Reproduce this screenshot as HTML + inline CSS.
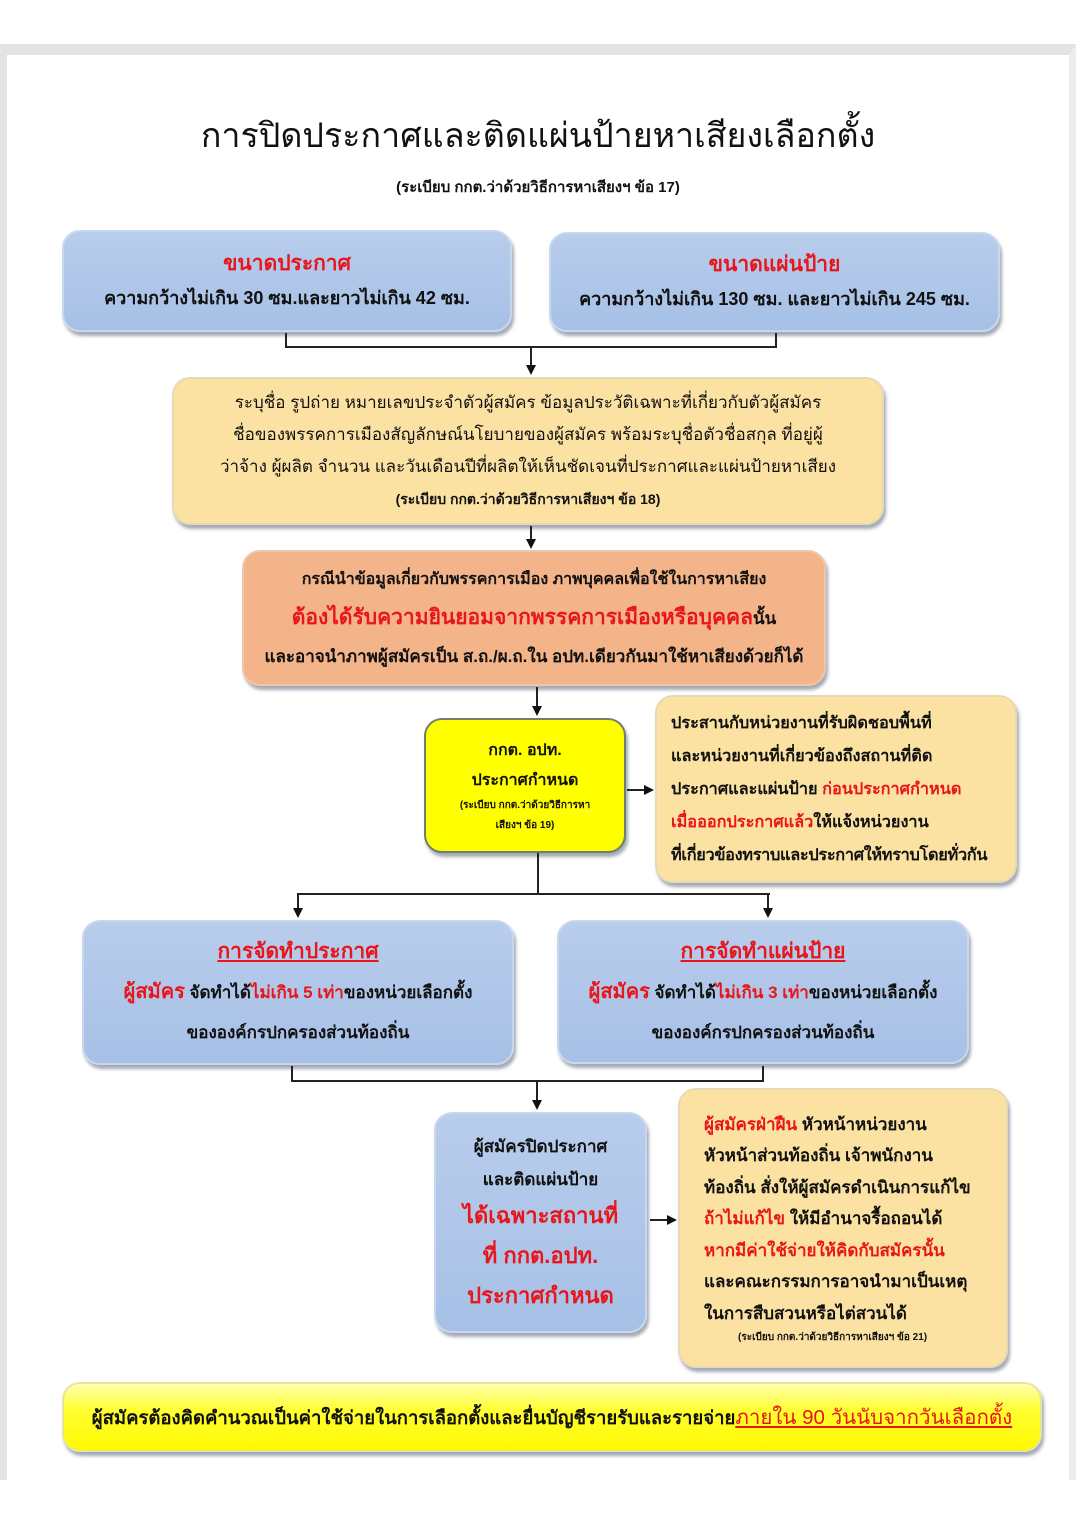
<!DOCTYPE html>
<html><head><meta charset="utf-8">
<style>
*{margin:0;padding:0;box-sizing:border-box}
body{width:1076px;height:1522px;background:#fff;position:relative;overflow:hidden;font-family:"Liberation Sans","DejaVu Sans",sans-serif;color:#111}
.frame{position:absolute;left:0;top:44px;width:1076px;height:1436px;border-top:11px solid #e3e3e6;border-left:7px solid #e3e3e6;border-right:7px solid #ececee}
.b{position:absolute;border-radius:18px;text-align:center;display:flex;flex-direction:column;justify-content:center;align-items:center;font-weight:bold;box-shadow:2px 4px 3px rgba(90,100,120,.55)}
.blue{background:linear-gradient(#b9cdec,#a6c0e6);border:2px solid #c9d7ee}
.ora{background:#fbe2a2;border:2px solid #e7d9b5}
.red{color:#e8151b}
.ln{position:absolute;background:#222}
.ah{position:absolute;width:0;height:0}
.down{border-left:5px solid transparent;border-right:5px solid transparent;border-top:10px solid #111}
.right{border-top:5px solid transparent;border-bottom:5px solid transparent;border-left:10px solid #111}
</style></head><body>
<div class="frame"></div>
<div style="position:absolute;left:0;width:1076px;top:108px;text-align:center;font-size:34px;font-weight:normal">การปิดประกาศและติดแผ่นป้ายหาเสียงเลือกตั้ง</div>
<div style="position:absolute;left:0;width:1076px;top:175px;text-align:center;font-size:15px;font-weight:bold">(ระเบียบ กกต.ว่าด้วยวิธีการหาเสียงฯ ข้อ 17)</div>

<div class="b blue" style="left:62px;top:230px;width:450px;height:102px;font-size:18px;line-height:34px"><div class="red" style="font-size:21px">ขนาดประกาศ</div><div>ความกว้างไม่เกิน 30 ซม.และยาวไม่เกิน 42 ซม.</div></div>
<div class="b blue" style="left:549px;top:232px;width:451px;height:100px;font-size:18px;line-height:34px"><div class="red" style="font-size:21px">ขนาดแผ่นป้าย</div><div>ความกว้างไม่เกิน 130 ซม. และยาวไม่เกิน 245 ซม.</div></div>
<div class="ln" style="left:285px;top:333px;width:2px;height:14px"></div>
<div class="ln" style="left:775px;top:333px;width:2px;height:14px"></div>
<div class="ln" style="left:285px;top:346px;width:492px;height:2px"></div>
<div class="ln" style="left:530px;top:346px;width:2px;height:20px"></div>
<div class="ah down" style="left:526px;top:365px"></div>

<div class="b ora" style="left:172px;top:377px;width:712px;height:148px;font-size:17px;line-height:32px;font-weight:normal"><div>ระบุชื่อ รูปถ่าย หมายเลขประจำตัวผู้สมัคร ข้อมูลประวัติเฉพาะที่เกี่ยวกับตัวผู้สมัคร</div><div>ชื่อของพรรคการเมืองสัญลักษณ์นโยบายของผู้สมัคร พร้อมระบุชื่อตัวชื่อสกุล ที่อยู่ผู้</div><div>ว่าจ้าง ผู้ผลิต จำนวน และวันเดือนปีที่ผลิตให้เห็นชัดเจนที่ประกาศและแผ่นป้ายหาเสียง</div><div style="font-size:14px;font-weight:bold">(ระเบียบ กกต.ว่าด้วยวิธีการหาเสียงฯ ข้อ 18)</div></div>
<div class="ln" style="left:530px;top:526px;width:2px;height:14px"></div>
<div class="ah down" style="left:526px;top:539px"></div>

<div class="b" style="left:242px;top:550px;width:584px;height:136px;background:#f4b489;border:2px solid #f1c6a6;font-size:16px;line-height:38px"><div>กรณีนำข้อมูลเกี่ยวกับพรรคการเมือง ภาพบุคคลเพื่อใช้ในการหาเสียง</div><div style="font-size:21px"><span class="red">ต้องได้รับความยินยอมจากพรรคการเมืองหรือบุคคล</span><span style="font-size:17px">นั้น</span></div><div style="font-size:17px">และอาจนำภาพผู้สมัครเป็น ส.ถ./ผ.ถ.ใน อปท.เดียวกันมาใช้หาเสียงด้วยก็ได้</div></div>
<div class="ln" style="left:536px;top:687px;width:2px;height:20px"></div>
<div class="ah down" style="left:532px;top:706px"></div>

<div class="b" style="left:424px;top:718px;width:202px;height:135px;background:#ffff00;border:2px solid #6f7f6a;font-size:16px;line-height:30px"><div>กกต. อปท.</div><div>ประกาศกำหนด</div><div style="font-size:10px;line-height:20px">(ระเบียบ กกต.ว่าด้วยวิธีการหา<br>เสียงฯ ข้อ 19)</div></div>
<div class="ln" style="left:627px;top:789px;width:18px;height:2px"></div>
<div class="ah right" style="left:644px;top:785px"></div>
<div class="b ora" style="left:655px;top:695px;width:362px;height:188px;font-size:16.3px;line-height:33px;align-items:flex-start;text-align:left;padding-left:14px"><div>ประสานกับหน่วยงานที่รับผิดชอบพื้นที่</div><div>และหน่วยงานที่เกี่ยวข้องถึงสถานที่ติด</div><div>ประกาศและแผ่นป้าย <span class="red">ก่อนประกาศกำหนด</span></div><div><span class="red">เมื่อออกประกาศแล้ว</span>ให้แจ้งหน่วยงาน</div><div style="letter-spacing:-0.3px">ที่เกี่ยวข้องทราบและประกาศให้ทราบโดยทั่วกัน</div></div>

<div class="ln" style="left:537px;top:853px;width:2px;height:41px"></div>
<div class="ln" style="left:297px;top:893px;width:473px;height:2px"></div>
<div class="ln" style="left:297px;top:893px;width:2px;height:16px"></div>
<div class="ln" style="left:767px;top:893px;width:2px;height:16px"></div>
<div class="ah down" style="left:293px;top:908px"></div>
<div class="ah down" style="left:763px;top:908px"></div>

<div class="b blue" style="left:82px;top:920px;width:432px;height:145px;font-size:17px;line-height:40px"><div class="red" style="font-size:21px;text-decoration:underline">การจัดทำประกาศ</div><div><span class="red" style="font-size:20px">ผู้สมัคร</span> จัดทำได้<span class="red">ไม่เกิน 5 เท่า</span>ของหน่วยเลือกตั้ง</div><div>ขององค์กรปกครองส่วนท้องถิ่น</div></div>
<div class="b blue" style="left:557px;top:920px;width:412px;height:144px;font-size:17px;line-height:40px"><div class="red" style="font-size:21px;text-decoration:underline">การจัดทำแผ่นป้าย</div><div><span class="red" style="font-size:20px">ผู้สมัคร</span> จัดทำได้<span class="red">ไม่เกิน 3 เท่า</span>ของหน่วยเลือกตั้ง</div><div>ขององค์กรปกครองส่วนท้องถิ่น</div></div>
<div class="ln" style="left:291px;top:1066px;width:2px;height:15px"></div>
<div class="ln" style="left:762px;top:1066px;width:2px;height:15px"></div>
<div class="ln" style="left:291px;top:1080px;width:473px;height:2px"></div>
<div class="ln" style="left:536px;top:1080px;width:2px;height:21px"></div>
<div class="ah down" style="left:532px;top:1100px"></div>

<div class="b blue" style="left:434px;top:1112px;width:213px;height:221px;font-size:17px;line-height:33px"><div>ผู้สมัครปิดประกาศ</div><div>และติดแผ่นป้าย</div><div class="red" style="font-size:22px;line-height:40px">ได้เฉพาะสถานที่<br>ที่ กกต.อปท.<br>ประกาศกำหนด</div></div>
<div class="ln" style="left:650px;top:1219px;width:18px;height:2px"></div>
<div class="ah right" style="left:667px;top:1215px"></div>
<div class="b ora" style="left:678px;top:1088px;width:330px;height:280px;font-size:17px;line-height:31.5px;align-items:flex-start;text-align:left;padding-left:24px"><div><span class="red">ผู้สมัครฝ่าฝืน</span> หัวหน้าหน่วยงาน</div><div>หัวหน้าส่วนท้องถิ่น เจ้าพนักงาน</div><div>ท้องถิ่น สั่งให้ผู้สมัครดำเนินการแก้ไข</div><div><span class="red">ถ้าไม่แก้ไข</span> ให้มีอำนาจรื้อถอนได้</div><div class="red">หากมีค่าใช้จ่ายให้คิดกับสมัครนั้น</div><div>และคณะกรรมการอาจนำมาเป็นเหตุ</div><div>ในการสืบสวนหรือไต่สวนได้</div><div style="font-size:10px;line-height:18px;padding-left:34px">(ระเบียบ กกต.ว่าด้วยวิธีการหาเสียงฯ ข้อ 21)</div></div>

<div class="b" style="left:62px;top:1382px;width:980px;height:70px;background:linear-gradient(#ffffb0,#ffff30 40%,#fff700);border:2px solid #e8e4a0;font-size:18.5px"><div>ผู้สมัครต้องคิดคำนวณเป็นค่าใช้จ่ายในการเลือกตั้งและยื่นบัญชีรายรับและรายจ่าย<span class="red" style="font-size:20.5px;text-decoration:underline;font-weight:normal">ภายใน 90 วันนับจากวันเลือกตั้ง</span></div></div>
</body></html>
